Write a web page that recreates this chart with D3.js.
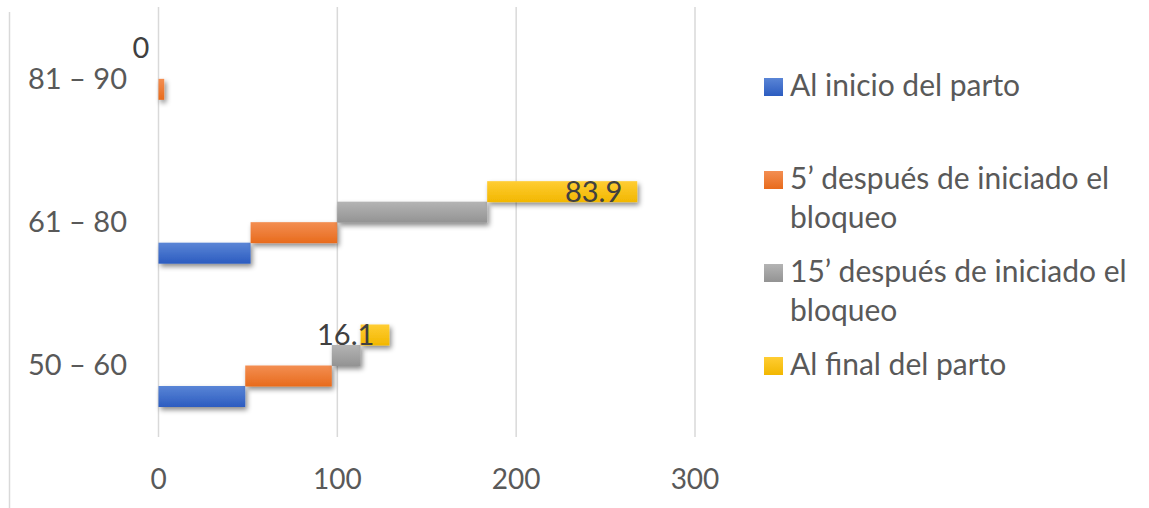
<!DOCTYPE html>
<html>
<head>
<meta charset="utf-8">
<script src="https://cdn.jsdelivr.net/npm/d3@7"></script>
<style>
  body { margin: 0; background: #fff; }
  svg text { font-family: Lato, "Liberation Sans", Arial, sans-serif; }
</style>
</head>
<body>
<svg id="chart" width="1149" height="508"></svg>
<script>
// Age groups (top to bottom) and the four measurement moments
const categories = ["81 – 90", "61 – 80", "50 – 60"];
const seriesNames = [
  "Al inicio del parto",
  "5’ después de iniciado el bloqueo",
  "15’ después de iniciado el bloqueo",
  "Al final del parto"
];
const legendLines = [
  ["Al inicio del parto"],
  ["5’ después de iniciado el", "bloqueo"],
  ["15’ después de iniciado el", "bloqueo"],
  ["Al final del parto"]
];
const alInicio = [0, 51.5, 48.5];
const cincoMin = [3.2, 48.4, 48.4];
const quinceMin = [0, 83.9, 16.1];
const alFinal = [0, 83.9, 16.1];
const xTicks = [0, 100, 200, 300];

const seriesValues = [alInicio, cincoMin, quinceMin, alFinal];
const colors = [
  ["#5a85d6", "#2c5cc0"],
  ["#f38e52", "#e86b1c"],
  ["#b4b4b4", "#939393"],
  ["#ffcd33", "#f2b700"]
];

const svg = d3.select("#chart");
const W = 1149, H = 508;
const plot = { left: 158.5, right: 695, top: 7, bottom: 437 };

const x = d3.scaleLinear().domain([0, 300]).range([plot.left, plot.right]);
const y = d3.scaleBand().domain(categories).range([plot.top, plot.bottom]).padding(0);

const barH = 21, step = 20.5, baseGap = 30;

// gradients and shadow
const defs = svg.append("defs");
colors.forEach((c, i) => {
  const g = defs.append("linearGradient").attr("id", "grad" + i)
    .attr("x1", 0).attr("y1", 0).attr("x2", 0).attr("y2", 1);
  g.append("stop").attr("offset", "0%").attr("stop-color", c[0]);
  g.append("stop").attr("offset", "100%").attr("stop-color", c[1]);
});
const f = defs.append("filter").attr("id", "shadow")
  .attr("x", "-20%").attr("y", "-40%").attr("width", "140%").attr("height", "200%");
f.append("feDropShadow").attr("dx", 2).attr("dy", 3).attr("stdDeviation", 2.5)
  .attr("flood-color", "#000").attr("flood-opacity", 0.45);

// outer frame edge on the left
svg.append("line")
  .attr("x1", 9.5).attr("x2", 9.5).attr("y1", 12).attr("y2", H)
  .attr("stroke", "#d9d9d9").attr("stroke-width", 1.5);

// vertical gridlines
svg.append("g").selectAll("line").data(xTicks).join("line")
  .attr("x1", d => x(d)).attr("x2", d => x(d))
  .attr("y1", plot.top).attr("y2", plot.bottom)
  .attr("stroke", "#d9d9d9").attr("stroke-width", 1.5);

// x tick labels
svg.append("g").selectAll("text").data(xTicks).join("text")
  .attr("x", d => x(d)).attr("y", 489)
  .attr("text-anchor", "middle")
  .attr("font-size", 28).attr("fill", "#595959")
  .text(d => d);

// category labels
svg.append("g").selectAll("text").data(categories).join("text")
  .attr("x", 127).attr("y", d => y(d) + y.bandwidth() / 2 + 10)
  .attr("text-anchor", "end")
  .attr("font-size", 29).attr("fill", "#595959")
  .text(d => d);

// stacked data
const rows = categories.map((c, ci) => {
  const r = { cat: c };
  seriesNames.forEach((s, si) => r[s] = seriesValues[si][ci]);
  return r;
});
const stacked = d3.stack().keys(seriesNames)(rows);

const barY = (cat, si) => y(cat) + y.bandwidth() - baseGap - barH - si * step;

stacked.forEach((layer, si) => {
  svg.append("g").attr("filter", "url(#shadow)")
    .selectAll("rect").data(layer.filter(d => d[1] - d[0] > 0)).join("rect")
    .attr("x", d => x(d[0]))
    .attr("width", d => x(d[1]) - x(d[0]))
    .attr("y", d => barY(d.data.cat, si))
    .attr("height", barH)
    .attr("fill", "url(#grad" + si + ")");
});

// value labels on the last series, inside end
const last = stacked[stacked.length - 1];
svg.append("g").selectAll("text").data(last).join("text")
  .attr("x", d => x(d[1]) - 15)
  .attr("y", d => barY(d.data.cat, 3) + barH / 2 + 10)
  .attr("text-anchor", "end")
  .attr("font-size", 29).attr("fill", "#404040")
  .text(d => d.data[seriesNames[3]]);

// legend
const lg = svg.append("g");
legendLines.forEach((lines, i) => {
  const base = 96 + i * 93;
  lg.append("rect").attr("x", 764).attr("y", base - 18).attr("width", 19).attr("height", 18)
    .attr("fill", "url(#grad" + i + ")");
  lines.forEach((t, li) => {
    lg.append("text").attr("x", 790).attr("y", base + li * 39)
      .attr("font-size", 30).attr("fill", "#595959").text(t);
  });
});
</script>
</body>
</html>
